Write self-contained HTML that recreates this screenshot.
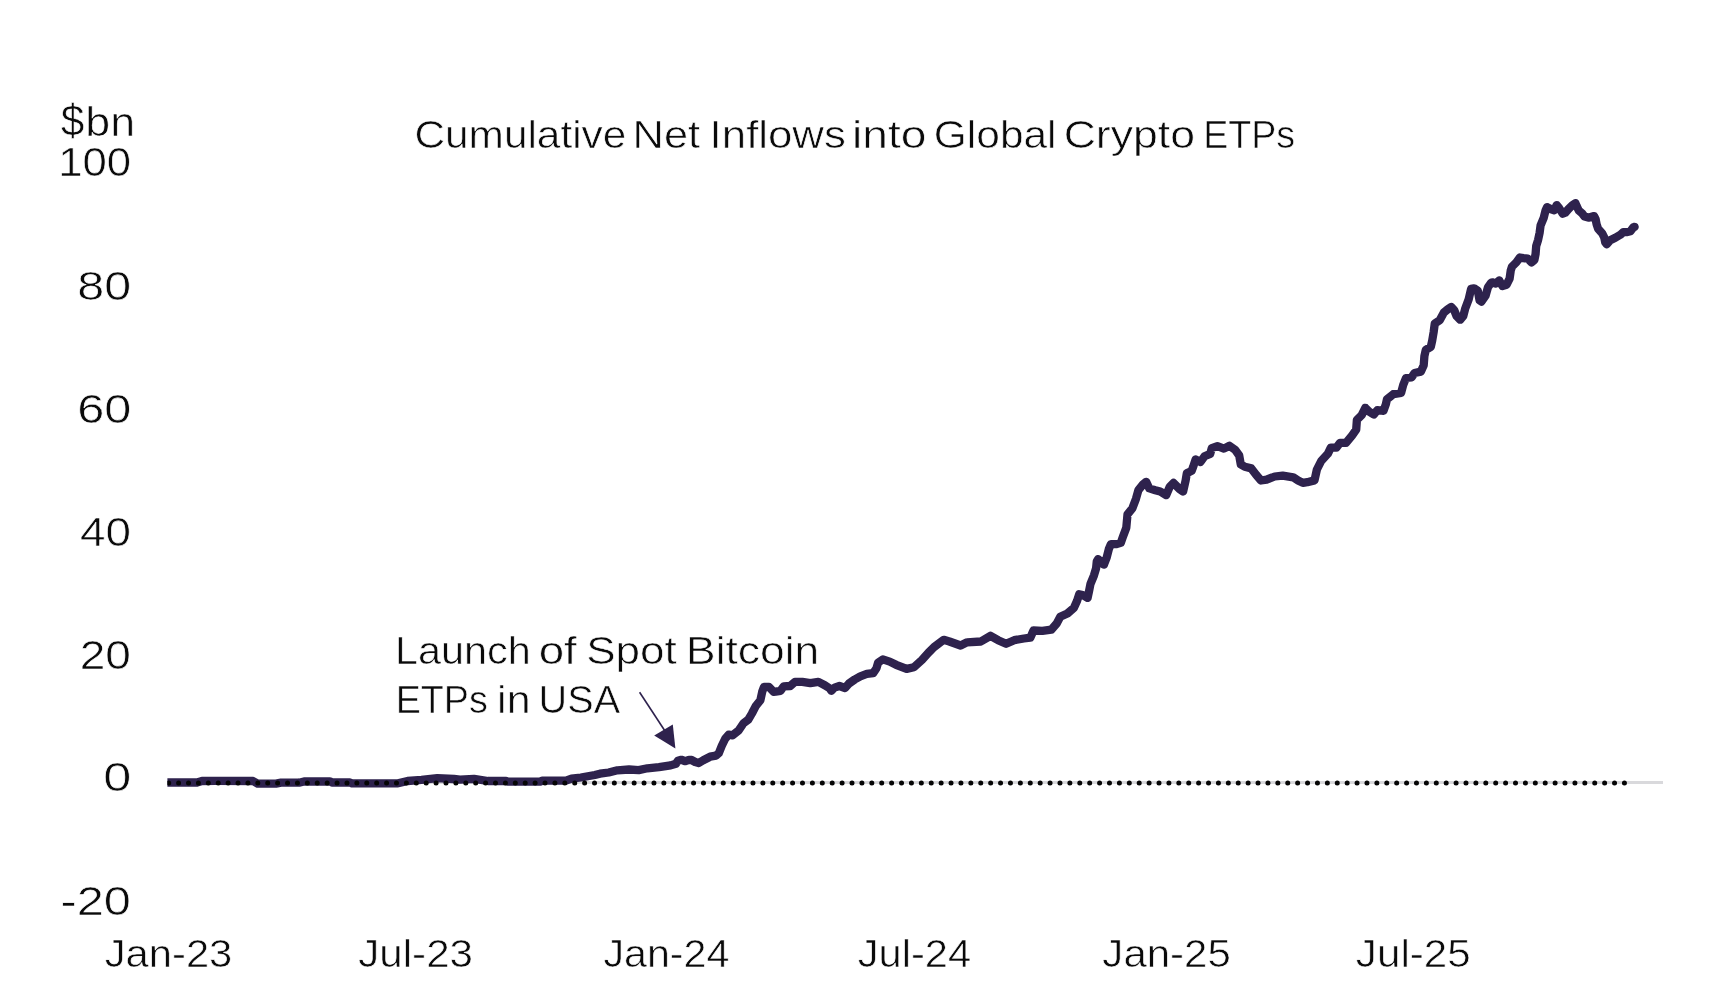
<!DOCTYPE html>
<html><head><meta charset="utf-8"><title>Cumulative Net Inflows into Global Crypto ETPs</title>
<style>
html,body{margin:0;padding:0;background:#fff;}
body{width:1722px;height:992px;overflow:hidden;}
svg{display:block;}
text{font-family:"Liberation Sans", Arial, sans-serif;fill:#0a0a0a;stroke:#fff;stroke-width:0.6px;paint-order:fill stroke;will-change:transform;}
</style></head><body>
<svg width="1722" height="992" viewBox="0 0 1722 992">
<rect width="1722" height="992" fill="#fff"/>
<defs><clipPath id="pa"><rect x="167.4" y="0" width="1600" height="992"/></clipPath></defs>
<line x1="167" y1="782.6" x2="1663" y2="782.6" stroke="#d9d9dc" stroke-width="3"/>
<g clip-path="url(#pa)"><path d="M167.0,782.5 L197.0,782.5 L202.0,781.0 L215.0,780.8 L253.0,781.0 L257.6,783.6 L276.0,783.6 L281.0,782.7 L299.0,782.7 L304.0,781.5 L330.0,781.3 L332.0,782.5 L350.0,782.5 L352.0,783.3 L398.0,783.3 L407.6,781.0 L421.5,779.9 L437.3,778.2 L454.0,779.0 L460.0,779.6 L474.0,778.9 L488.0,781.0 L506.0,781.0 L508.0,781.7 L540.0,781.7 L542.0,780.7 L566.0,780.7 L571.5,778.7 L580.8,777.5 L594.8,775.0 L600.0,773.7 L608.7,772.5 L617.4,770.3 L629.0,769.5 L638.7,770.1 L647.4,768.3 L659.0,767.2 L670.6,765.4 L675.9,763.7 L678.0,760.8 L681.3,759.8 L685.4,761.2 L689.0,759.8 L691.5,760.0 L695.2,762.0 L698.7,763.0 L703.3,760.2 L710.1,756.7 L716.0,755.6 L718.8,753.2 L721.8,745.7 L725.2,738.7 L728.7,734.6 L732.6,735.3 L738.6,730.5 L743.5,723.2 L748.3,719.6 L751.9,713.5 L755.6,706.3 L760.4,700.2 L762.2,691.8 L764.0,686.9 L768.9,686.9 L773.7,691.8 L775.6,691.6 L780.5,690.8 L783.7,686.4 L790.2,686.0 L795.0,681.9 L802.3,681.9 L810.3,683.1 L818.4,681.9 L824.8,685.2 L829.7,688.4 L831.3,690.8 L834.5,687.6 L839.4,686.0 L845.0,688.0 L849.0,683.5 L854.7,679.5 L860.3,676.3 L866.8,673.9 L873.2,673.1 L876.5,668.2 L878.1,662.6 L882.9,659.4 L889.7,661.6 L896.1,664.8 L906.6,668.9 L913.9,667.3 L921.9,660.0 L928.4,652.7 L934.0,647.1 L943.7,639.8 L949.4,641.5 L960.6,645.5 L967.1,642.3 L980.8,641.5 L990.5,635.8 L998.1,640.2 L1006.1,643.8 L1014.2,640.2 L1023.9,638.5 L1030.3,637.7 L1033.5,630.5 L1042.4,630.9 L1051.3,629.7 L1056.9,623.2 L1060.2,616.8 L1067.4,613.5 L1073.9,607.9 L1077.1,600.7 L1079.2,594.3 L1082.7,595.0 L1087.6,597.9 L1089.1,590.8 L1090.5,583.8 L1094.0,575.3 L1096.1,568.2 L1096.8,561.2 L1098.2,559.1 L1101.0,562.6 L1103.9,564.7 L1106.7,557.6 L1108.8,549.2 L1110.9,544.2 L1115.9,544.2 L1120.8,542.8 L1122.7,537.4 L1126.3,527.7 L1127.5,514.4 L1132.3,508.4 L1136.0,498.7 L1138.4,490.2 L1143.2,484.2 L1146.2,481.8 L1149.3,488.4 L1155.3,490.2 L1160.2,491.5 L1166.2,495.1 L1169.8,486.6 L1173.5,483.0 L1179.5,489.0 L1183.1,491.5 L1185.6,480.6 L1186.8,473.3 L1191.6,470.9 L1193.2,466.8 L1195.6,459.5 L1200.5,461.9 L1204.5,456.3 L1210.2,453.9 L1211.8,448.2 L1217.4,446.2 L1223.9,448.6 L1229.5,445.8 L1235.2,449.8 L1239.2,455.5 L1240.8,464.4 L1244.8,466.8 L1251.3,468.4 L1256.1,474.8 L1261.0,480.5 L1266.6,479.7 L1274.7,476.5 L1282.7,475.6 L1293.2,477.3 L1298.1,480.5 L1302.9,482.9 L1307.3,482.2 L1314.5,480.4 L1316.9,469.5 L1321.2,461.0 L1327.8,453.8 L1330.8,447.7 L1336.3,447.7 L1339.9,442.9 L1346.0,442.9 L1352.0,435.6 L1356.2,429.6 L1356.9,419.9 L1361.7,415.1 L1365.3,407.8 L1368.9,411.5 L1373.8,414.5 L1377.4,410.2 L1383.5,410.8 L1385.9,404.2 L1387.0,399.2 L1393.3,394.2 L1401.1,392.8 L1403.2,385.0 L1406.0,378.0 L1411.7,377.3 L1414.5,373.0 L1420.9,371.6 L1423.7,365.3 L1424.4,356.1 L1425.8,349.8 L1430.8,346.9 L1432.2,340.6 L1433.6,332.4 L1434.8,323.4 L1439.7,320.3 L1443.9,312.5 L1447.5,309.5 L1451.2,307.0 L1454.2,310.1 L1456.6,316.1 L1460.2,319.7 L1463.3,316.1 L1465.1,308.9 L1468.7,299.2 L1471.1,288.9 L1474.1,288.3 L1477.8,290.7 L1479.6,300.4 L1481.4,301.6 L1485.6,295.6 L1488.0,287.1 L1491.0,283.0 L1492.1,282.3 L1495.7,283.5 L1499.3,280.5 L1502.4,286.0 L1506.6,284.7 L1509.6,278.7 L1510.8,270.2 L1512.0,266.6 L1516.3,262.4 L1519.9,257.5 L1523.5,258.1 L1527.8,258.7 L1531.4,262.4 L1534.4,260.0 L1535.6,253.9 L1536.2,246.0 L1538.1,239.9 L1539.6,232.9 L1540.6,225.3 L1543.6,218.2 L1545.6,210.2 L1547.1,207.1 L1551.2,209.2 L1554.2,210.2 L1556.7,205.1 L1559.2,208.2 L1562.8,213.7 L1565.3,212.7 L1568.3,209.2 L1572.4,205.1 L1575.4,203.1 L1576.9,206.6 L1578.9,210.7 L1582.4,213.7 L1584.5,216.5 L1589.0,217.6 L1594.1,216.1 L1595.6,219.1 L1596.6,224.2 L1598.1,228.7 L1602.1,233.2 L1604.2,237.3 L1605.2,242.3 L1606.7,244.3 L1610.2,240.3 L1615.3,237.8 L1620.3,234.8 L1623.3,232.2 L1626.4,232.2 L1630.4,231.2 L1633.4,227.2 L1634.6,226.9" fill="none" stroke="#2e224d" stroke-width="8.3" stroke-linejoin="round" stroke-linecap="round"/>
<line x1="168.7" y1="783" x2="1625" y2="783" stroke="#050505" stroke-width="5" stroke-dasharray="0 9.903" stroke-linecap="round"/></g>
<line x1="639.6" y1="692.3" x2="665" y2="731" stroke="#2e224d" stroke-width="1.6"/>
<polygon points="654.2,735.4 672.8,724.4 675.4,748.5" fill="#2e224d"/>
<text><tspan x="60.87" y="136.30" font-size="44" textLength="23.61" lengthAdjust="spacingAndGlyphs">$</tspan><tspan x="85.39" y="136.10" font-size="41" textLength="49.74" lengthAdjust="spacingAndGlyphs">bn</tspan></text>
<text x="58.15" y="176.39" font-size="41.5" textLength="72.89" lengthAdjust="spacingAndGlyphs">100</text>
<text x="77.37" y="299.75" font-size="41.5" textLength="53.88" lengthAdjust="spacingAndGlyphs">80</text>
<text x="77.15" y="422.79" font-size="41.5" textLength="54.17" lengthAdjust="spacingAndGlyphs">60</text>
<text x="79.99" y="545.80" font-size="41.5" textLength="51.01" lengthAdjust="spacingAndGlyphs">40</text>
<text x="79.72" y="669.09" font-size="41.5" textLength="51.16" lengthAdjust="spacingAndGlyphs">20</text>
<text x="103.21" y="791.03" font-size="41.5" textLength="28.07" lengthAdjust="spacingAndGlyphs">0</text>
<text x="60.56" y="914.96" font-size="41.5" textLength="70.34" lengthAdjust="spacingAndGlyphs">-20</text>
<text><tspan x="414.51" y="148.20" font-size="39" textLength="211.78" lengthAdjust="spacingAndGlyphs">Cumulative</tspan> <tspan x="632.61" y="148.20" font-size="39" textLength="67.57" lengthAdjust="spacingAndGlyphs">Net</tspan> <tspan x="709.63" y="148.20" font-size="39" textLength="136.26" lengthAdjust="spacingAndGlyphs">Inflows</tspan> <tspan x="852.00" y="148.20" font-size="39" textLength="74.37" lengthAdjust="spacingAndGlyphs">into</tspan> <tspan x="933.87" y="148.20" font-size="39" textLength="122.68" lengthAdjust="spacingAndGlyphs">Global</tspan> <tspan x="1063.67" y="148.20" font-size="39" textLength="131.29" lengthAdjust="spacingAndGlyphs">Crypto</tspan> <tspan x="1203.17" y="148.20" font-size="39" textLength="91.98" lengthAdjust="spacingAndGlyphs">ETPs</tspan></text>
<text><tspan x="394.96" y="663.50" font-size="39" textLength="135.84" lengthAdjust="spacingAndGlyphs">Launch</tspan> <tspan x="538.68" y="663.50" font-size="39" textLength="38.09" lengthAdjust="spacingAndGlyphs">of</tspan> <tspan x="586.25" y="663.50" font-size="39" textLength="90.49" lengthAdjust="spacingAndGlyphs">Spot</tspan> <tspan x="686.06" y="663.50" font-size="39" textLength="133.12" lengthAdjust="spacingAndGlyphs">Bitcoin</tspan></text>
<text><tspan x="395.69" y="713.30" font-size="39" textLength="92.10" lengthAdjust="spacingAndGlyphs">ETPs</tspan> <tspan x="497.10" y="713.30" font-size="39" textLength="33.45" lengthAdjust="spacingAndGlyphs">in</tspan> <tspan x="538.64" y="713.30" font-size="39" textLength="81.45" lengthAdjust="spacingAndGlyphs">USA</tspan></text>
<text x="104.71" y="966.50" font-size="39.5" textLength="127.61" lengthAdjust="spacingAndGlyphs">Jan-23</text>
<text x="358.29" y="966.50" font-size="39.5" textLength="114.71" lengthAdjust="spacingAndGlyphs">Jul-23</text>
<text x="603.48" y="966.50" font-size="39.5" textLength="125.94" lengthAdjust="spacingAndGlyphs">Jan-24</text>
<text x="857.82" y="966.50" font-size="39.5" textLength="113.36" lengthAdjust="spacingAndGlyphs">Jul-24</text>
<text x="1102.39" y="966.50" font-size="39.5" textLength="128.47" lengthAdjust="spacingAndGlyphs">Jan-25</text>
<text x="1355.88" y="966.50" font-size="39.5" textLength="114.88" lengthAdjust="spacingAndGlyphs">Jul-25</text>
</svg>
</body></html>
